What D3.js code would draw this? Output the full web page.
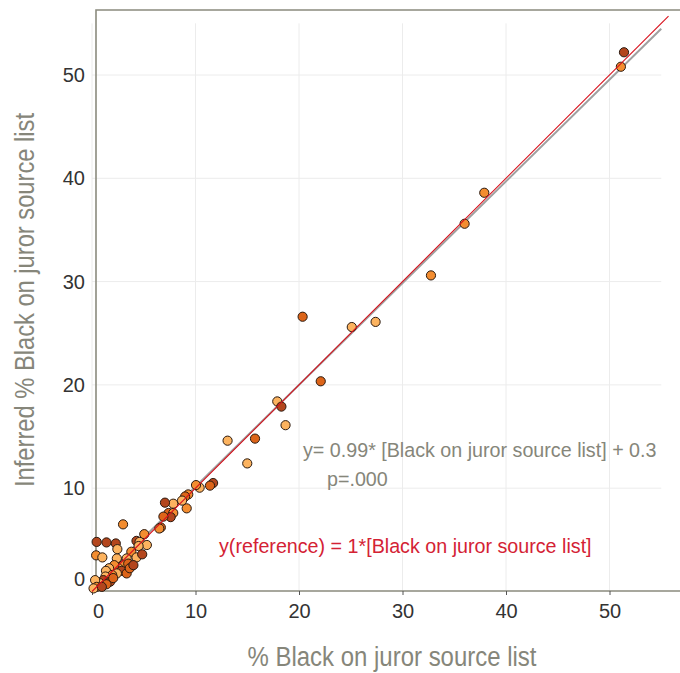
<!DOCTYPE html>
<html>
<head>
<meta charset="utf-8">
<script src="https://cdn.jsdelivr.net/npm/d3@7"></script>
<style>
  body { margin: 0; background: #fff; }
  svg { display: block; }
</style>
</head>
<body>
<script>
// % Black on juror source list (x) vs inferred % (y), shade = colour group
const xs = [51.4, 51.1, 37.9, 36.0, 32.75, 20.35, 25.1, 27.4, 22.1, 17.9, 18.3, 18.7, 13.1, 15.75, 15.0,
  11.7, 11.4, 10.4, 10.05, 9.3, 9.0, 9.15, 8.7, 7.85, 7.05, 7.4, 7.85, 7.6, 6.9, 6.65, 6.5,
  3.0, 5.05, 4.3, 4.6, 5.3, 4.5, 3.8, 4.3, 4.85, 0.45, 1.4, 2.3, 2.45, 0.4, 1.0, 2.4, 3.35,
  3.0, 3.5, 2.55, 2.15, 1.65, 1.35, 2.85, 3.35, 2.4, 1.95, 1.3, 1.1, 1.75, 0.75, 0.3, 1.4,
  0.45, 0.15, 0.95, 2.05, 3.65, 4.0]
const ys = [52.2, 50.8, 38.6, 35.6, 30.6, 26.6, 25.6, 26.1, 20.35, 18.4, 17.9, 16.1, 14.6, 14.8, 12.4,
  10.5, 10.25, 10.05, 10.3, 9.4, 9.2, 8.05, 8.8, 8.5, 8.6, 7.6, 7.6, 7.2, 7.25, 6.2, 6.1,
  6.5, 5.55, 4.9, 4.8, 4.5, 4.4, 3.85, 3.3, 3.6, 4.8, 4.75, 4.65, 4.1, 3.5, 3.3, 3.2, 3.2,
  2.55, 2.7, 2.25, 2.55, 2.25, 2.0, 2.0, 1.75, 1.75, 1.6, 1.45, 1.1, 0.95, 0.8, 1.1, 0.7,
  0.45, 0.3, 0.45, 1.3, 2.25, 2.55]
const shades = ['b', 'o', 'o', 'o', 'o', 'd', 'l', 'l', 'd', 'l', 'b', 'l', 'l', 'd', 'l',
  'b', 'd', 'l', 'o', 'o', 'd', 'o', 'l', 'l', 'b', 'd', 'o', 'b', 'd', 'd', 'o',
  'o', 'o', 'b', 'l', 'l', 'l', 'o', 'l', 'b', 'b', 'b', 'b', 'l', 'o', 'l', 'l', 'l',
  'o', 'd', 'l', 'o', 'l', 'l', 'b', 'd', 'l', 'o', 'l', 'b', 'b', 'l', 'l', 'd',
  'o', 'l', 'b', 'd', 'd', 'b']

const xTicks = [0, 10, 20, 30, 40, 50]
const yTicks = [0, 10, 20, 30, 40, 50]
const gridMax = 55
const fit = { slope: 0.985, intercept: 0.3, xEnd: 55 }
const refEnd = 55.7

const shadeColor = { l: '#fcb35f', o: '#f38d30', d: '#dc6419', b: '#b3461d' }

const width = 680
const height = 673
const frame = { left: 96, top: 10, bottom: 591, right: 680 }

const x = d3.scaleLinear().domain([0, 50]).range([92, 609.5])
const y = d3.scaleLinear().domain([0, 50]).range([591.5, 75])

const svg = d3.select('body')
  .append('svg')
  .attr('width', width)
  .attr('height', height)

const narrow = '"Liberation Sans Narrow", "Arial Narrow", sans-serif'

// grid
const grid = svg.append('g').attr('stroke', '#ececec').attr('stroke-width', 1)
grid.selectAll('.h')
  .data(yTicks.slice(1))
  .enter()
  .append('line')
  .attr('x1', x(0)).attr('x2', x(gridMax))
  .attr('y1', d => y(d)).attr('y2', d => y(d))
grid.selectAll('.v')
  .data(xTicks)
  .enter()
  .append('line')
  .attr('x1', d => x(d)).attr('x2', d => x(d))
  .attr('y1', y(gridMax)).attr('y2', frame.bottom)

// frame
svg.append('path')
  .attr('d', `M${frame.right},${frame.top}H${frame.left}V${frame.bottom}H${frame.right}`)
  .attr('fill', 'none')
  .attr('stroke', '#8b8b7e')
  .attr('stroke-width', 1.6)

// x axis
const xAxis = svg.append('g')
  .attr('transform', `translate(0,${frame.bottom})`)
  .call(d3.axisBottom(x).tickValues(xTicks).tickSize(4).tickPadding(9))
xAxis.select('.domain').remove()
xAxis.selectAll('line').attr('stroke', '#555')
xAxis.selectAll('text')
  .attr('font-family', narrow)
  .attr('font-size', 20)
  .attr('fill', '#333')
  .attr('dx', d => d === 0 ? 6 : 0)

// y axis
const yAxis = svg.append('g')
  .attr('transform', `translate(${frame.left},0)`)
  .call(d3.axisLeft(y).tickValues(yTicks).tickSize(0).tickPadding(11))
yAxis.select('.domain').remove()
yAxis.selectAll('text')
  .attr('font-family', narrow)
  .attr('font-size', 20)
  .attr('fill', '#333')
  .attr('dy', d => d === 0 ? '-0.3em' : '0.32em')

// regression line
svg.append('line')
  .attr('x1', x(0)).attr('y1', y(fit.intercept))
  .attr('x2', x(fit.xEnd)).attr('y2', y(fit.slope * fit.xEnd + fit.intercept))
  .attr('stroke', '#a0a0a0')
  .attr('stroke-width', 2)

// points
svg.append('g')
  .selectAll('circle')
  .data(xs.map((v, i) => ({ x: v, y: ys[i], s: shades[i] })))
  .enter()
  .append('circle')
  .attr('cx', d => x(d.x))
  .attr('cy', d => y(d.y))
  .attr('r', 4.6)
  .attr('fill', d => shadeColor[d.s])
  .attr('stroke', '#2a1a10')
  .attr('stroke-width', 1)

// reference line y = x
svg.append('line')
  .attr('x1', x(0)).attr('y1', y(0))
  .attr('x2', x(refEnd)).attr('y2', y(refEnd))
  .attr('stroke', '#d8101c')
  .attr('stroke-width', 1.1)

// annotations
svg.append('text')
  .attr('x', 303).attr('y', 457)
  .attr('font-family', narrow).attr('font-size', 19.7)
  .attr('fill', '#86867a')
  .text('y= 0.99* [Black on juror source list] + 0.3')
svg.append('text')
  .attr('x', 327).attr('y', 486)
  .attr('font-family', narrow).attr('font-size', 19.7)
  .attr('fill', '#86867a')
  .text('p=.000')
svg.append('text')
  .attr('x', 219).attr('y', 553)
  .attr('font-family', narrow).attr('font-size', 19.7)
  .attr('fill', '#d42234')
  .text('y(reference) = 1*[Black on juror source list]')

// axis titles
svg.append('text')
  .attr('x', 392).attr('y', 666)
  .attr('text-anchor', 'middle')
  .attr('font-family', narrow).attr('font-size', 27)
  .attr('textLength', 289).attr('lengthAdjust', 'spacingAndGlyphs')
  .attr('fill', '#86867a')
  .text('% Black on juror source list')
svg.append('text')
  .attr('transform', 'translate(34,300) rotate(-90)')
  .attr('text-anchor', 'middle')
  .attr('font-family', narrow).attr('font-size', 27)
  .attr('textLength', 374).attr('lengthAdjust', 'spacingAndGlyphs')
  .attr('fill', '#86867a')
  .text('Inferred % Black on juror source list')
</script>
</body>
</html>
